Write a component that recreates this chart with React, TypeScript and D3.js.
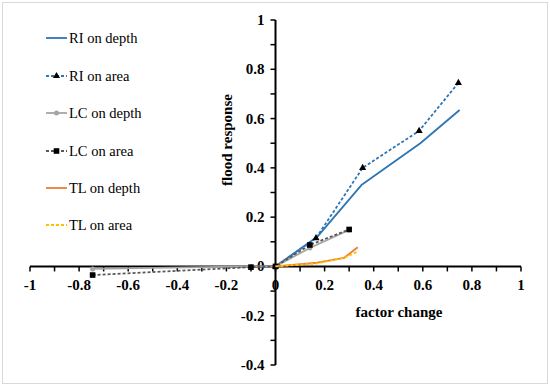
import * as d3 from 'd3';
import React, { useEffect, useRef } from 'react';

const riDepthX = [0, 0.17, 0.35, 0.59, 0.75];
const riDepthY = [0, 0.12, 0.33, 0.5, 0.635];
const riAreaX = [0, 0.165, 0.355, 0.585, 0.745];
const riAreaY = [0, 0.115, 0.4, 0.55, 0.745];
const lcDepthX = [-0.745, -0.1, 0, 0.14, 0.3];
const lcDepthY = [-0.01, 0, 0, 0.075, 0.148];
const lcAreaX = [-0.745, -0.1, 0, 0.14, 0.3];
const lcAreaY = [-0.035, -0.003, 0, 0.087, 0.15];
const tlDepthX = [0, 0.17, 0.28, 0.335];
const tlDepthY = [0, 0.015, 0.035, 0.078];
const tlAreaX = [0, 0.17, 0.28, 0.33];
const tlAreaY = [0, 0.012, 0.035, 0.058];

const xTicks = [-1, -0.8, -0.6, -0.4, -0.2, 0, 0.2, 0.4, 0.6, 0.8, 1];
const yTicks = [-0.4, -0.2, 0, 0.2, 0.4, 0.6, 0.8, 1];

type Series = {
  name: string;
  xs: number[];
  ys: number[];
  color: string;
  dash: string | null;
  marker: 'none' | 'triangle' | 'circle' | 'square';
  markerColor: string;
};

const series: Series[] = [
  { name: 'RI on depth', xs: riDepthX, ys: riDepthY, color: '#2e75b6', dash: null, marker: 'none', markerColor: '' },
  { name: 'RI on area', xs: riAreaX, ys: riAreaY, color: '#2e75b6', dash: '3,2', marker: 'triangle', markerColor: '#000' },
  { name: 'LC on depth', xs: lcDepthX, ys: lcDepthY, color: '#a5a5a5', dash: null, marker: 'circle', markerColor: '#a5a5a5' },
  { name: 'LC on area', xs: lcAreaX, ys: lcAreaY, color: '#595959', dash: '3,2', marker: 'square', markerColor: '#000' },
  { name: 'TL on depth', xs: tlDepthX, ys: tlDepthY, color: '#ed7d31', dash: null, marker: 'none', markerColor: '' },
  { name: 'TL on area', xs: tlAreaX, ys: tlAreaY, color: '#ffc000', dash: '3,2', marker: 'none', markerColor: '' },
];

const fmt = (v: number) => (v === 0 ? '0' : String(+v.toFixed(1)));

export default function App() {
  const ref = useRef<SVGSVGElement | null>(null);

  useEffect(() => {
    const width = 550;
    const height = 388;
    const svg = d3.select(ref.current);
    svg.selectAll('*').remove();

    const x = d3.scaleLinear().domain([-1, 1]).range([30, 521]);
    const y = d3.scaleLinear().domain([-0.4, 1]).range([365, 20]);
    const font = '"Liberation Serif", "Times New Roman", serif';

    svg.append('rect').attr('width', width).attr('height', height).attr('fill', '#fff');
    svg
      .append('rect')
      .attr('x', 2.5)
      .attr('y', 2.5)
      .attr('width', 545)
      .attr('height', 381)
      .attr('fill', 'none')
      .attr('stroke', '#d9d9d9');

    // axes through the origin
    const x0 = x(0);
    const y0 = y(0);
    const xAxis = svg.append('g');
    xAxis
      .append('line')
      .attr('x1', x(-1))
      .attr('x2', x(1))
      .attr('y1', y0)
      .attr('y2', y0)
      .attr('stroke', '#000')
      .attr('stroke-width', 2);
    d3.range(-10, 11).forEach(i => {
      xAxis
        .append('line')
        .attr('x1', x(i / 10))
        .attr('x2', x(i / 10))
        .attr('y1', y0)
        .attr('y2', y0 + 5)
        .attr('stroke', '#000')
        .attr('stroke-width', 1.5);
    });
    xTicks.forEach(t => {
      xAxis
        .append('text')
        .attr('x', x(t))
        .attr('y', y0 + 24)
        .attr('text-anchor', 'middle')
        .attr('font-family', font)
        .attr('font-weight', 'bold')
        .attr('font-size', 15)
        .text(fmt(t));
    });

    const yAxis = svg.append('g');
    yAxis
      .append('line')
      .attr('x1', x0)
      .attr('x2', x0)
      .attr('y1', y(-0.4))
      .attr('y2', y(1))
      .attr('stroke', '#000')
      .attr('stroke-width', 2);
    d3.range(-4, 11).forEach(i => {
      yAxis
        .append('line')
        .attr('x1', x0 - 5)
        .attr('x2', x0)
        .attr('y1', y(i / 10))
        .attr('y2', y(i / 10))
        .attr('stroke', '#000')
        .attr('stroke-width', 1.5);
    });
    yTicks.forEach(t => {
      yAxis
        .append('text')
        .attr('x', x0 - 11)
        .attr('y', y(t) + 5)
        .attr('text-anchor', 'end')
        .attr('font-family', font)
        .attr('font-weight', 'bold')
        .attr('font-size', 15)
        .text(fmt(t));
    });

    svg
      .append('text')
      .attr('x', 399)
      .attr('y', 317)
      .attr('text-anchor', 'middle')
      .attr('font-family', font)
      .attr('font-weight', 'bold')
      .attr('font-size', 15)
      .text('factor change');
    svg
      .append('text')
      .attr('transform', 'translate(232,140) rotate(-90)')
      .attr('text-anchor', 'middle')
      .attr('font-family', font)
      .attr('font-weight', 'bold')
      .attr('font-size', 15)
      .text('flood response');

    const drawMarker = (g: d3.Selection<SVGGElement, unknown, null, undefined>, s: Series, cx: number, cy: number) => {
      if (s.marker === 'triangle') {
        g.append('path')
          .attr('d', d3.symbol(d3.symbolTriangle, 22)())
          .attr('transform', `translate(${cx},${cy})`)
          .attr('fill', s.markerColor);
      } else if (s.marker === 'circle') {
        g.append('circle').attr('cx', cx).attr('cy', cy).attr('r', 2.5).attr('fill', s.markerColor);
      } else if (s.marker === 'square') {
        g.append('rect')
          .attr('x', cx - 2.8)
          .attr('y', cy - 2.8)
          .attr('width', 5.6)
          .attr('height', 5.6)
          .attr('fill', s.markerColor);
      }
    };

    const line = d3
      .line<[number, number]>()
      .x(d => x(d[0]))
      .y(d => y(d[1]));

    series.forEach(s => {
      const g = svg.append('g');
      const pts = s.xs.map((v, i) => [v, s.ys[i]] as [number, number]);
      const path = g
        .append('path')
        .attr('d', line(pts))
        .attr('fill', 'none')
        .attr('stroke', s.color)
        .attr('stroke-width', 1.8)
        .attr('stroke-linejoin', 'round');
      if (s.dash) path.attr('stroke-dasharray', s.dash);
      pts.forEach(p => drawMarker(g, s, x(p[0]), y(p[1])));
    });

    // legend
    const legendY = [38, 76, 113, 151, 188, 225];
    series.forEach((s, i) => {
      const g = svg.append('g');
      const ly = legendY[i];
      const l = g
        .append('line')
        .attr('x1', 46)
        .attr('x2', 67)
        .attr('y1', ly)
        .attr('y2', ly)
        .attr('stroke', s.color)
        .attr('stroke-width', 1.8);
      if (s.dash) l.attr('stroke-dasharray', s.dash);
      drawMarker(g, s, 56.5, ly);
      g.append('text')
        .attr('x', 69)
        .attr('y', ly + 5)
        .attr('font-family', font)
        .attr('font-size', 14.5)
        .attr('fill', '#000')
        .text(s.name);
    });
  }, []);

  return (
    <div style={{ position: 'absolute', left: 0, top: 0 }}>
      <svg ref={ref} width={550} height={388} style={{ display: 'block' }} />
    </div>
  );
}
